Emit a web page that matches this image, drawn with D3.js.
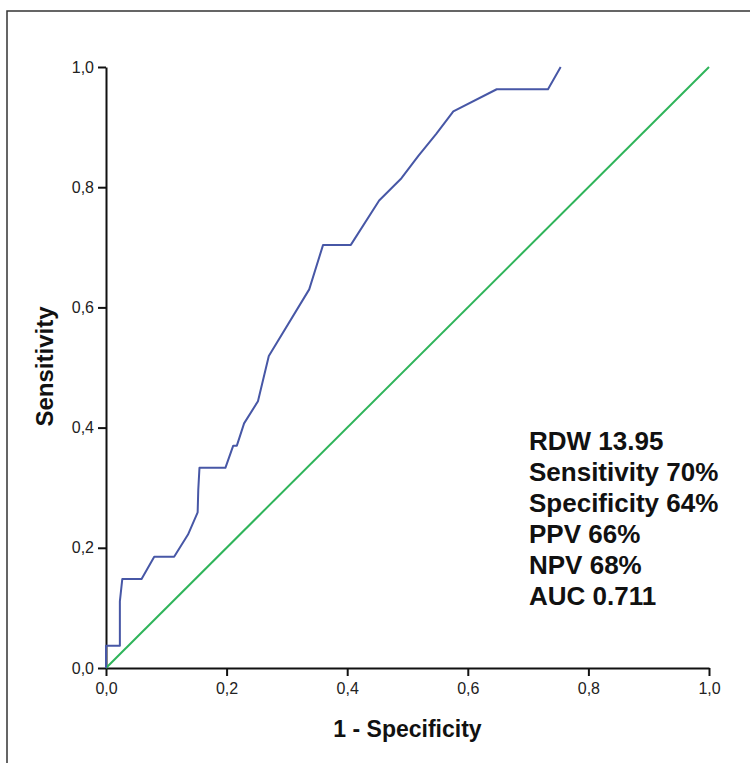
<!DOCTYPE html>
<html>
<head>
<meta charset="utf-8">
<script src="https://cdn.jsdelivr.net/npm/d3@7"></script>
<style>
  body { margin: 0; background: #fff; }
  svg { display: block; font-family: "Liberation Sans", Arial, sans-serif; }
</style>
</head>
<body>
<div id="chart"></div>
<script>
// ROC curve points
var fpr  = [0, 0, 0.023, 0.023, 0.027, 0.059, 0.080, 0.113, 0.136, 0.152, 0.153, 0.155, 0.198, 0.211, 0.217, 0.229, 0.252, 0.270, 0.337, 0.360, 0.406, 0.453, 0.490, 0.518, 0.548, 0.576, 0.648, 0.733, 0.754];
var sens = [0, 0.037, 0.037, 0.111, 0.148, 0.148, 0.185, 0.185, 0.222, 0.259, 0.296, 0.333, 0.333, 0.370, 0.370, 0.407, 0.444, 0.519, 0.630, 0.704, 0.704, 0.778, 0.815, 0.852, 0.889, 0.926, 0.963, 0.963, 1.0];
var refLine = [0, 1];
var tickValues = [0, 0.2, 0.4, 0.6, 0.8, 1.0];
var statLines = ["RDW 13.95", "Sensitivity 70%", "Specificity 64%", "PPV 66%", "NPV 68%", "AUC 0.711"];

var W = 750, H = 763;
var margin = { top: 67, right: 41, bottom: 95, left: 106 };

var svg = d3.select("#chart").append("svg")
    .attr("width", W)
    .attr("height", H);

// outer frame (only top & left edges visible in the crop)
svg.append("path")
    .attr("d", "M7," + H + "V11H" + W)
    .attr("fill", "none")
    .attr("stroke", "#333")
    .attr("stroke-width", 1.5);

var x = d3.scaleLinear().domain([0, 1]).range([margin.left, W - margin.right]);
var y = d3.scaleLinear().domain([0, 1]).range([H - margin.bottom, margin.top]);

var fmt = function (d) { return d3.format(".1f")(d).replace(".", ","); };

var xAxis = svg.append("g")
    .attr("transform", "translate(0," + y(0) + ")")
    .call(d3.axisBottom(x).tickValues(tickValues).tickFormat(fmt).tickSize(8).tickPadding(7).tickSizeOuter(0));

var yAxis = svg.append("g")
    .attr("transform", "translate(" + x(0) + ",0)")
    .call(d3.axisLeft(y).tickValues(tickValues).tickFormat(fmt).tickSize(8).tickPadding(4).tickSizeOuter(0));

[xAxis, yAxis].forEach(function (a) {
    a.select(".domain").attr("stroke", "#111").attr("stroke-width", 2);
    a.selectAll(".tick line").attr("stroke", "#111").attr("stroke-width", 2);
    a.selectAll(".tick text")
        .attr("fill", "#222")
        .style("font-size", "16px")
        .style("font-family", "\"Liberation Sans\", Arial, sans-serif");
});

// reference diagonal
svg.append("line")
    .attr("x1", x(refLine[0])).attr("y1", y(refLine[0]))
    .attr("x2", x(refLine[1])).attr("y2", y(refLine[1]))
    .attr("stroke", "#2fb45a")
    .attr("stroke-width", 2);

// ROC curve
var pts = fpr.map(function (f, i) { return [f, sens[i]]; });
var line = d3.line()
    .x(function (d) { return x(d[0]); })
    .y(function (d) { return y(d[1]); });

svg.append("path")
    .datum(pts)
    .attr("d", line)
    .attr("fill", "none")
    .attr("stroke", "#4757a6")
    .attr("stroke-width", 2)
    .attr("stroke-linejoin", "round");

// axis titles
svg.append("text")
    .attr("x", x(0.5))
    .attr("y", 737)
    .attr("text-anchor", "middle")
    .style("font-size", "23px")
    .style("font-weight", "bold")
    .attr("fill", "#111")
    .text("1 - Specificity");

svg.append("text")
    .attr("transform", "translate(53," + (y(0.5) - 1) + ") rotate(-90)")
    .attr("text-anchor", "middle")
    .style("font-size", "24px")
    .style("font-weight", "bold")
    .attr("fill", "#111")
    .text("Sensitivity");

// stats block
svg.append("g").selectAll("text")
    .data(statLines)
    .enter().append("text")
    .attr("x", 529)
    .attr("y", function (d, i) { return 450 + i * 31; })
    .style("font-size", "26px")
    .style("font-weight", "bold")
    .attr("fill", "#111")
    .text(function (d) { return d; });
</script>
</body>
</html>
